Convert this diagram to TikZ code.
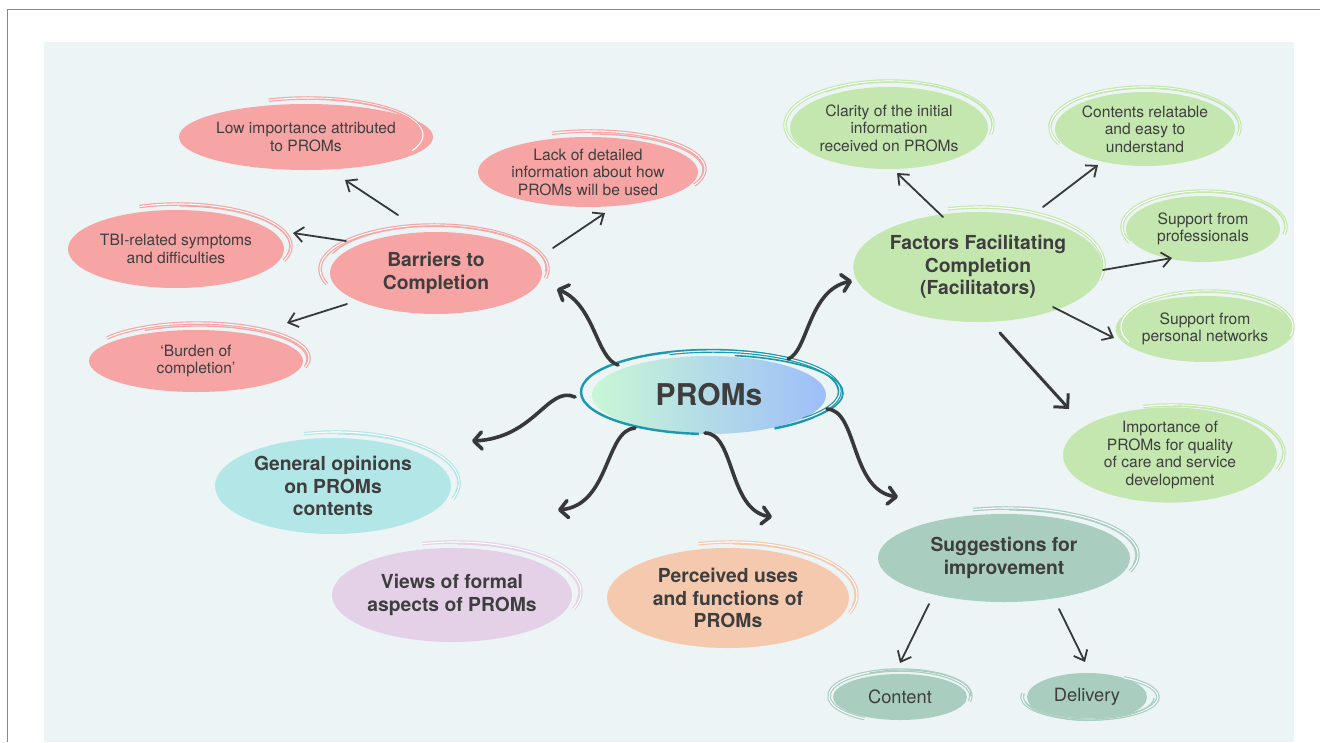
\documentclass[tikz,border=0pt]{standalone}
\usepackage{fontspec}
\setmainfont{TeX Gyre Heros}
\usetikzlibrary{shapes.geometric,arrows.meta}
\definecolor{bgc}{HTML}{ECF4F6}
\definecolor{txt}{HTML}{3E3E3E}
\definecolor{pinkF}{HTML}{F6A5A4}
\definecolor{greenF}{HTML}{C4E7AF}
\definecolor{cyanF}{HTML}{B3E6E7}
\definecolor{lavF}{HTML}{E4D1E8}
\definecolor{peachF}{HTML}{F4C9AE}
\definecolor{sageF}{HTML}{A9CDBF}
\definecolor{tealL}{HTML}{1A98AE}
\definecolor{promL}{HTML}{C9F7D6}
\definecolor{promR}{HTML}{9DBEF9}
\definecolor{arr}{HTML}{383838}
\definecolor{frameC}{HTML}{8A8A8A}
% #1 style, #2 node, #3 shift, #4 rx, #5 ry, #6 start, #7 end
\newcommand\scrib[7]{\draw[#1] ([shift={(#3)}]#2.center) ++(#6:#4 and #5) arc[start angle=#6,end angle=#7,x radius=#4,y radius=#5];}
\begin{document}
\begin{tikzpicture}[x=1pt,y=-1pt,
  bub/.style={ellipse, inner sep=0pt, outer sep=0pt, align=center, text=txt},
  sm/.style={font=\fontsize{15.6}{17.5}\selectfont},
  hd/.style={font=\fontsize{19.3}{22.5}\selectfont\bfseries},
  dbl/.style={draw=#1, line width=1.2pt, double=white, double distance=1.1pt},
  sgl/.style={draw=#1, line width=1.3pt},
  thinarr/.style={draw=arr, line width=1.8pt, line cap=round, -{Straight Barb[length=9pt,width=15pt]}},
  thickarr/.style={draw=arr, line width=3.6pt, line cap=round, -{Straight Barb[length=8pt,width=17pt,round]}}]
\useasboundingbox (0,0) rectangle (1320,742);
\fill[white] (0,0) rectangle (1320,742);
\fill[bgc] (44,42) rectangle (1294,742);
\draw[frameC, line width=1.3pt] (7.5,742) -- (7.5,9.5) -- (1320,9.5);

% nodes
\node[bub, left color=promL, right color=promR, minimum width=234, minimum height=78,
      font=\fontsize{30}{31}\selectfont\bfseries] (proms) at (709,395) {PROMs};
\node[bub, hd, fill=pinkF, minimum width=212, minimum height=82] (bar) at (436,273) {Barriers to\\Completion};
\node[bub, sm, fill=pinkF, minimum width=220, minimum height=66] (low) at (306,137) {Low importance attributed\\to PROMs};
\node[bub, sm, fill=pinkF, minimum width=216, minimum height=78] (tbi) at (176,249) {TBI-related symptoms\\and difficulties};
\node[bub, sm, fill=pinkF, minimum width=214, minimum height=62] (bur) at (196,361) {‘Burden of\\completion’};
\node[bub, sm, fill=pinkF, minimum width=220, minimum height=70] (lack) at (588,172) {Lack of detailed\\information about how\\PROMs will be used};
\node[bub, hd, fill=greenF, minimum width=238, minimum height=110] (fac) at (978,267) {Factors Facilitating\\Completion\\(Facilitators)};
\node[bub, sm, fill=greenF, minimum width=198, minimum height=82] (cla) at (889,128) {Clarity of the initial\\information\\received on PROMs};
\node[bub, sm, fill=greenF, minimum width=180, minimum height=74] (con) at (1145,129) {Contents relatable\\and easy to\\understand};
\node[bub, sm, fill=greenF, minimum width=154, minimum height=66] (spro) at (1203,229) {Support from\\professionals};
\node[bub, sm, fill=greenF, minimum width=160, minimum height=66] (sper) at (1205,329) {Support from\\personal networks};
\node[bub, sm, fill=greenF, minimum width=214, minimum height=90] (imp) at (1170,455) {Importance of\\PROMs for quality\\of care and service\\development};
\node[bub, hd, fill=cyanF, minimum width=236, minimum height=96] (gen) at (333,486) {General opinions\\on PROMs\\contents};
\node[bub, hd, fill=lavF, minimum width=240, minimum height=94] (view) at (452,595) {Views of formal\\aspects of PROMs};
\node[bub, hd, fill=peachF, minimum width=242, minimum height=100] (perc) at (728,598) {Perceived uses\\and functions of\\PROMs};
\node[bub, hd, fill=sageF, minimum width=252, minimum height=88] (sug) at (1004,558) {Suggestions for\\improvement};
\node[bub, font=\fontsize{18.3}{20}\selectfont, fill=sageF, minimum width=134, minimum height=46] (cont) at (900,697) {Content};
\node[bub, font=\fontsize{18.3}{20}\selectfont, fill=sageF, minimum width=120, minimum height=48] (del) at (1087,697) {Delivery};

% scribbles
\scrib{sgl=tealL, line width=2.4pt}{proms}{1,-3}{129}{42}{95}{420}
\scrib{dbl=tealL}{proms}{4,-4}{127}{40}{250}{405}
\scrib{sgl=tealL, line width=1.6pt}{proms}{3,-2}{131}{38}{280}{395}

\scrib{dbl=pinkF}{bar}{-2,-4}{114}{44}{160}{372}
\scrib{sgl=pinkF}{bar}{0,-5}{110}{42}{200}{365}
\scrib{dbl=pinkF}{low}{2,-2}{115}{37}{250}{385}
\scrib{sgl=pinkF}{low}{3,-3}{112}{35}{275}{375}
\scrib{dbl=pinkF}{tbi}{2,-3}{113}{42}{250}{380}
\scrib{sgl=pinkF}{tbi}{4,-3}{110}{40}{270}{372}
\scrib{dbl=pinkF}{bur}{2,-3}{111}{35}{215}{375}
\scrib{sgl=pinkF}{bur}{3,-2}{108}{33}{240}{370}
\scrib{dbl=pinkF}{lack}{3,-3}{114}{38}{250}{385}
\scrib{sgl=pinkF}{lack}{4,-2}{111}{36}{270}{375}

\scrib{dbl=greenF}{fac}{2,-2}{124}{58}{255}{375}
\scrib{sgl=greenF}{fac}{-2,0}{121}{55}{165}{195}
\scrib{dbl=greenF}{cla}{0,-3}{104}{44}{150}{372}
\scrib{sgl=greenF}{cla}{2,-4}{101}{42}{230}{365}
\scrib{dbl=greenF}{con}{0,-2}{95}{40}{155}{372}
\scrib{sgl=greenF}{con}{2,-3}{92}{38}{230}{365}
\scrib{dbl=greenF}{spro}{1,-2}{82}{36}{155}{372}
\scrib{sgl=greenF}{spro}{3,-3}{79}{34}{240}{365}
\scrib{dbl=greenF}{sper}{2,-2}{86}{36}{155}{375}
\scrib{sgl=greenF}{sper}{3,-3}{83}{34}{240}{368}
\scrib{dbl=greenF}{imp}{2,-2}{112}{48}{255}{380}
\scrib{sgl=greenF}{imp}{4,-3}{109}{46}{270}{372}

\scrib{dbl=cyanF}{gen}{3,-3}{123}{51}{255}{378}
\scrib{sgl=cyanF}{gen}{5,-3}{120}{49}{270}{372}
\scrib{dbl=lavF}{view}{3,-3}{126}{50}{255}{380}
\scrib{sgl=lavF}{view}{5,-3}{122}{48}{270}{372}
\scrib{dbl=peachF}{perc}{3,-3}{126}{53}{255}{380}
\scrib{sgl=peachF}{perc}{5,-3}{122}{51}{270}{372}
\scrib{dbl=sageF}{sug}{3,-3}{131}{47}{255}{380}
\scrib{sgl=sageF}{sug}{5,-3}{127}{45}{270}{372}
\scrib{dbl=sageF}{cont}{0,-1}{71}{26}{120}{372}
\scrib{sgl=sageF}{cont}{3,-3}{68}{24}{240}{365}
\scrib{dbl=sageF}{del}{3,0}{68}{22}{190}{-60}
\scrib{sgl=sageF}{del}{2,1}{65}{21}{170}{0}

% thick curved arrows from PROMs
\draw[thickarr] ([shift={(-91,-30)}]proms.center) .. controls +(-22,-7) and +(38,16) .. ([shift={(121,16)}]bar.center);
\draw[thickarr] ([shift={(79,-36)}]proms.center) .. controls +(20,-7) and +(-44,9) .. ([shift={(-126,14)}]fac.center);
\draw[thickarr] ([shift={(-134,2)}]proms.center) .. controls +(-27,-12) and +(63,-3) .. ([shift={(139,-45)}]gen.center);
\draw[thickarr] ([shift={(-74,33)}]proms.center) .. controls +(-30,2) and +(52,-5) .. ([shift={(106,-85)}]view.center);
\draw[thickarr] ([shift={(-4,38)}]proms.center) .. controls +(30,0) and +(-44,-7) .. ([shift={(44,-81)}]perc.center);
\draw[thickarr] ([shift={(118,14)}]proms.center) .. controls +(31,1) and +(-48,-7) .. ([shift={(-106,-61)}]sug.center);

% thin arrows
\draw[thinarr] ([shift={(-38,-58)}]bar.center) -- ([shift={(39,43)}]low.center);
\draw[thinarr] ([shift={(-90,-32)}]bar.center) -- ([shift={(117,-16)}]tbi.center);
\draw[thinarr] ([shift={(-89,31)}]bar.center) -- ([shift={(91,-38)}]bur.center);
\draw[thinarr] ([shift={(117,-25)}]bar.center) -- ([shift={(17,41)}]lack.center);
\draw[thinarr] ([shift={(-35,-50)}]fac.center) -- ([shift={(8,45)}]cla.center);
\draw[thinarr] ([shift={(65,-60)}]fac.center) -- ([shift={(-47,36)}]con.center);
\draw[thinarr] ([shift={(125,3)}]fac.center) -- ([shift={(-31,29)}]spro.center);
\draw[thinarr] ([shift={(75,40)}]fac.center) -- ([shift={(-91,9)}]sper.center);
\draw[thinarr, line width=3pt, -{Straight Barb[length=10pt,width=20pt]}] ([shift={(22,66)}]fac.center) -- ([shift={(-101,-46)}]imp.center);
\draw[thinarr] ([shift={(-75,46)}]sug.center) -- ([shift={(0,-34)}]cont.center);
\draw[thinarr] ([shift={(55,51)}]sug.center) -- ([shift={(-2,-35)}]del.center);
\end{tikzpicture}
\end{document}
